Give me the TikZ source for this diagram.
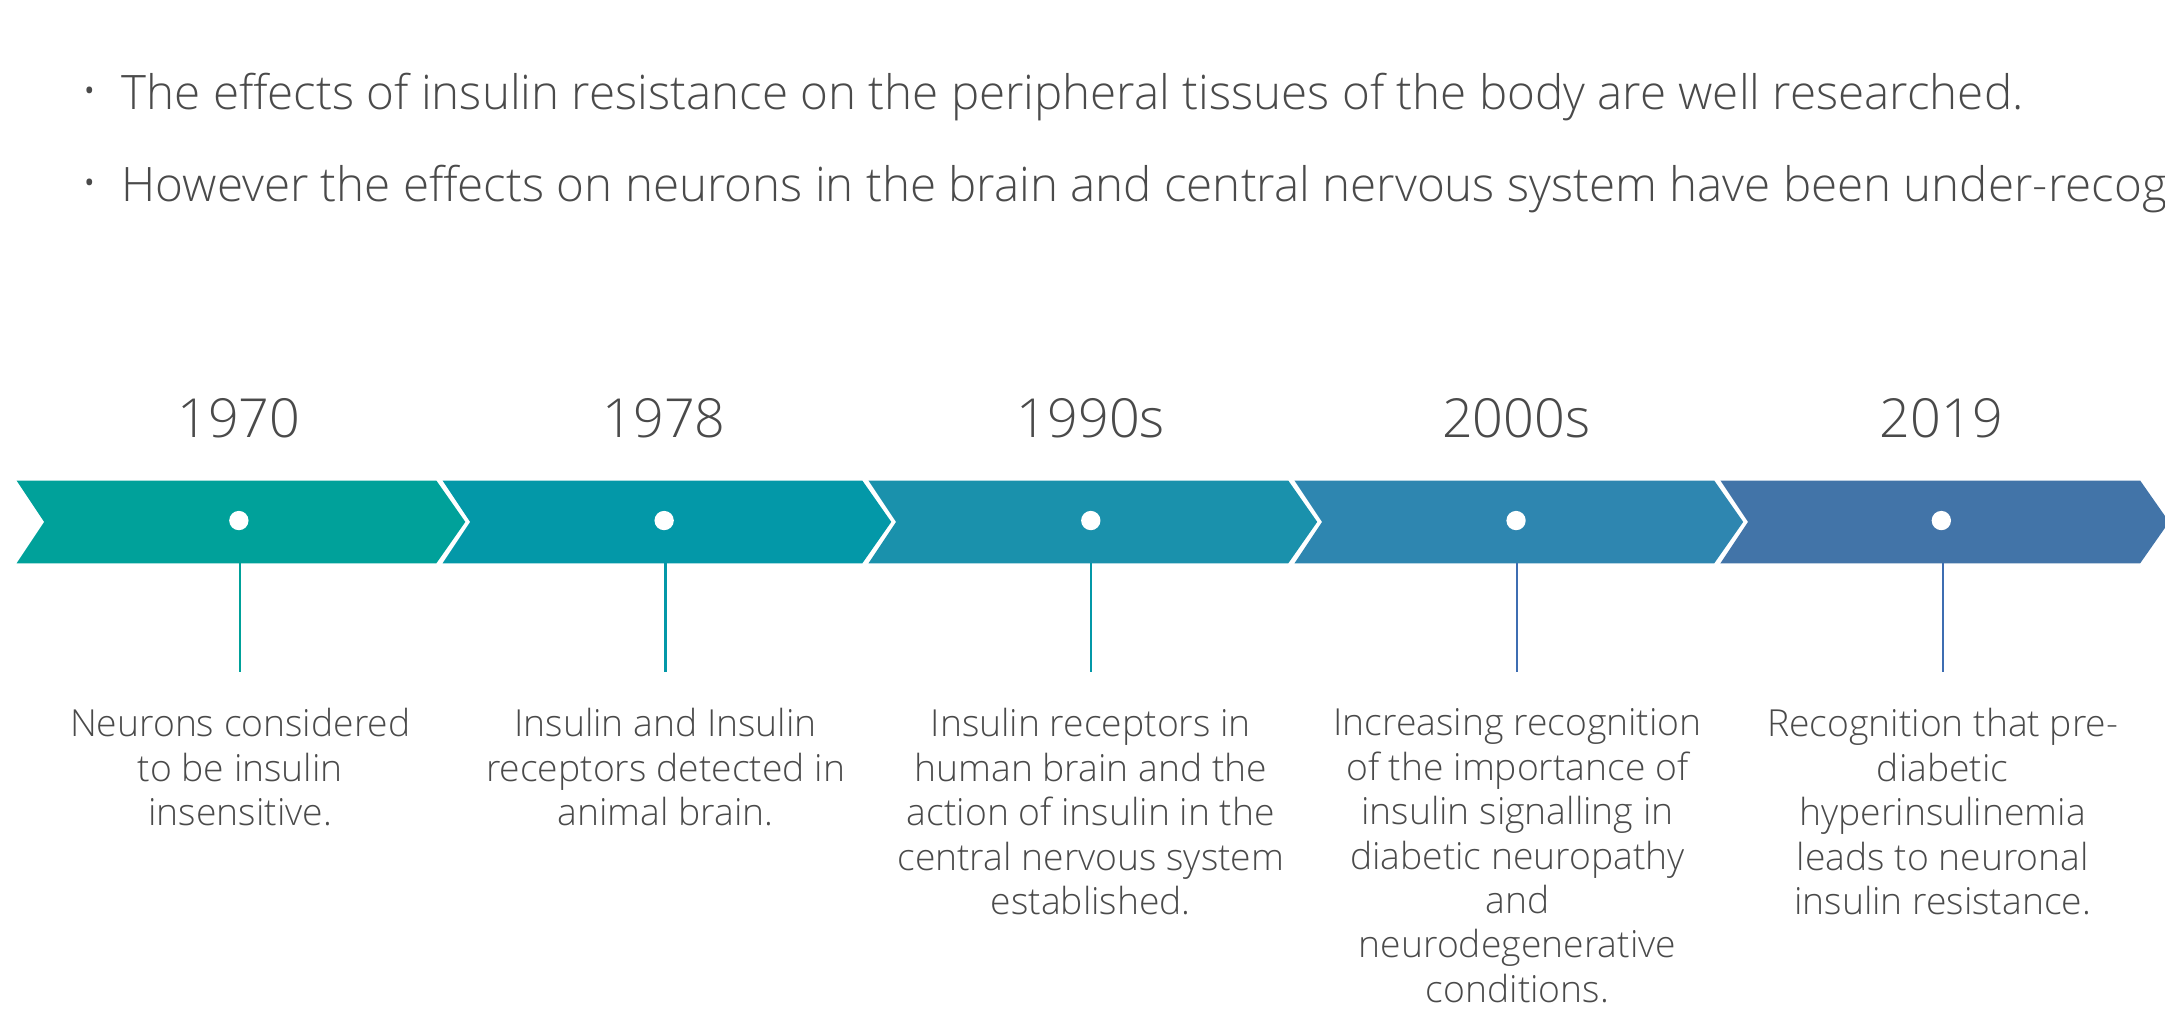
\documentclass[tikz,border=0pt]{standalone}
\usepackage{fontspec}
\setmainfont{Open Sans}[UprightFont={* Light}]
\usepackage{xcolor}
\definecolor{chevA}{HTML}{00A19A}
\definecolor{chevB}{HTML}{0398A8}
\definecolor{chevC}{HTML}{1A91AC}
\definecolor{chevD}{HTML}{2E86B0}
\definecolor{chevE}{HTML}{4274A8}
\definecolor{stemblue}{HTML}{3D6DB2}
\definecolor{txt}{HTML}{4A4A4A}
\tikzset{
  dot/.style={circle,fill=white,inner sep=0pt,minimum size=14pt},
  year/.style={text=txt,font=\fontsize{39}{46}\selectfont,anchor=base,inner sep=0pt},
  desc/.style={text=txt,font=\fontsize{27}{32.2}\selectfont,align=center,anchor=north,inner sep=0pt},
  bul/.style={text=txt,font=\fontsize{28}{30}\selectfont,inner sep=0pt},
  btext/.style={text=txt,font=\fontsize{34.4}{40}\selectfont,anchor=base west,inner sep=0pt},
  stem/.style={line width=1.5pt,shorten >=26pt}
}

\begin{document}
\begin{tikzpicture}[x=1pt,y=-1pt]
        \useasboundingbox (0,0) rectangle (1568,731);
        \node[bul](m1) at (65,69) {•};
        \node[bul](m2) at (65,136) {•};
        \node[btext](b1) at (88,79) {The effects of insulin resistance on the peripheral tissues of the body are well researched.};
        \node[btext](b2) at (88,146) {However the effects on neurons in the brain and central nervous system have been under-recognised.};
        \fill[chevA] (12,348) -- (316,348) -- (337,378) -- (316,408) -- (12,408) -- (32,378) -- cycle;
        \fill[chevB] (320.5,348) -- (624.5,348) -- (645.5,378) -- (624.5,408) -- (320.5,408) -- (340.5,378) -- cycle;
        \fill[chevC] (629,348) -- (933,348) -- (954,378) -- (933,408) -- (629,408) -- (649,378) -- cycle;
        \fill[chevD] (937.5,348) -- (1241.5,348) -- (1262.5,378) -- (1241.5,408) -- (937.5,408) -- (957.5,378) -- cycle;
        \fill[chevE] (1246,348) -- (1550,348) -- (1571,378) -- (1550,408) -- (1246,408) -- (1266,378) -- cycle;
        \node[year](y1) at (173,317) {1970};
        \node[year](y2) at (481,317) {1978};
        \node[year](y3) at (790,317) {1990s};
        \node[year](y4) at (1098,317) {2000s};
        \node[year](y5) at (1406,317) {2019};
        \node[dot](d1) at (173,377) {};
        \node[dot](d2) at (481,377) {};
        \node[dot](d3) at (790,377) {};
        \node[dot](d4) at (1098,377) {};
        \node[dot](d5) at (1406,377) {};
        \coordinate(s1) at (174,408);
        \coordinate(s2) at (482,408);
        \coordinate(s3) at (790,408);
        \coordinate(s4) at (1099,408);
        \coordinate(s5) at (1407,408);
        \node[desc](n1) at (174,513) {Neurons considered\\to be insulin\\insensitive.};
        \node[desc](n2) at (482,513) {Insulin and Insulin\\receptors detected in\\animal brain.};
        \node[desc](n3) at (790,513) {Insulin receptors in\\human brain and the\\action of insulin in the\\central nervous system\\established.};
        \node[desc](n4) at (1099,513) {Increasing recognition\\of the importance of\\insulin signalling in\\diabetic neuropathy\\and\\neurodegenerative\\conditions.};
        \node[desc](n5) at (1407,513) {Recognition that pre-\\diabetic\\hyperinsulinemia\\leads to neuronal\\insulin resistance.};
        \draw[stem,chevA](s1)--(n1.north);
        \draw[stem,chevB](s2)--(n2.north);
        \draw[stem,chevB](s3)--(n3.north);
        \draw[stem,stemblue](s4)--(n4.north);
        \draw[stem,stemblue](s5)--(n5.north);
\end{tikzpicture}
\end{document}
